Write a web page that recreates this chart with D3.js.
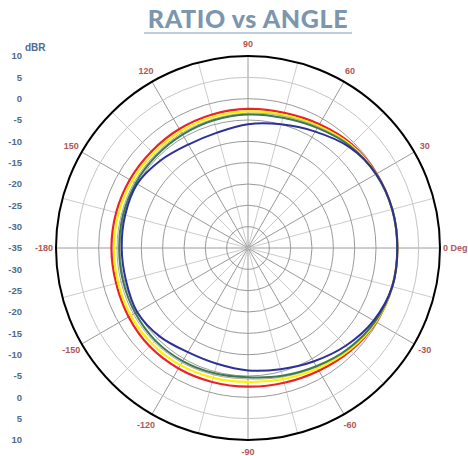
<!DOCTYPE html>
<html>
  <head>
    <title>Ratio vs Angle</title>
    <meta charset="UTF-8">
    <style>
      body { margin: 0; background: #fff; }
      svg { display: block; }
    </style>
  </head>
  <body>
    <svg></svg>

    <script src="https://d3js.org/d3.v7.min.js"></script>
    <script>

// angles in degrees (0 = right, counter-clockwise)
var angles = [0, 15, 30, 45, 60, 75, 90, 105, 120, 135, 150, 165, 180, 195, 210, 225, 240, 255, 270, 285, 300, 315, 330, 345];

// ratio in dBR for each series
var redValues    = [0, 0, -0.2, -0.6, -1.5, -2.2, -2.4, -2.6, -2.8, -3.0, -3.0, -3.0, -3.0, -3.0, -2.7, -2.4, -2.4, -2.5, -2.5, -2.3, -1.8, -1.0, -0.3, 0];
var yellowValues = [0, 0, -0.3, -0.9, -2.0, -2.7, -3.0, -3.2, -3.4, -3.6, -3.6, -3.6, -3.6, -3.5, -3.3, -3.2, -3.3, -3.5, -3.6, -3.2, -2.4, -1.3, -0.4, 0];
var grayValues   = [0, 0, -0.3, -1.0, -2.2, -3.0, -3.4, -3.7, -3.9, -4.1, -4.2, -4.3, -4.3, -4.2, -4.0, -3.9, -4.0, -4.2, -4.3, -3.7, -2.8, -1.5, -0.5, 0];
var greenValues  = [0, 0, -0.4, -1.2, -2.5, -3.4, -3.7, -4.0, -4.3, -4.5, -4.6, -4.7, -4.8, -4.7, -4.5, -4.3, -4.4, -4.6, -4.7, -4.0, -3.0, -1.7, -0.6, 0];
var blueValues   = [0, 0, -0.3, -1.5, -3.5, -5.0, -6.0, -7.0, -7.0, -6.0, -5.0, -5.2, -5.4, -5.4, -5.0, -5.7, -6.8, -6.9, -6.3, -5.6, -4.3, -2.6, -1.0, 0];

// tick labels
var dbTicks = [10, 5, 0, -5, -10, -15, -20, -25, -30, -35];
var angleLabels = [0, 30, 60, 90, 120, 150, 180, -150, -120, -90, -60, -30];
var gridCircles = [-30, -25, -20, -15, -10, -5, 0, 5];
var spokes = d3.range(0, 360, 15);

var config = {
  "width": 468,
  "height": 456,
  "cx": 248,
  "cy": 248,
  "radius": 192
};

var series = [
  {name: "red",    values: redValues,    color: "#ec2227", width: 2.2},
  {name: "yellow", values: yellowValues, color: "#fff200", width: 2.2},
  {name: "gray",   values: grayValues,   color: "#a8a8a8", width: 1},
  {name: "green",  values: greenValues,  color: "#3d7a50", width: 2},
  {name: "blue",   values: blueValues,   color: "#2b3199", width: 2}
];

var svg = d3.select("svg")
  .attr("width", config.width)
  .attr("height", config.height);

var r = d3.scaleLinear().domain([-35, 10]).range([0, config.radius]);
var rad = function(deg) { return deg * Math.PI / 180; };

/* TITLE */
svg.append("text")
  .attr("x", 248)
  .attr("y", 28)
  .attr("text-anchor", "middle")
  .style("font-family", "Lato, 'Open Sans', sans-serif")
  .style("font-weight", 900)
  .style("font-size", "25px")
  .style("letter-spacing", "0.6px")
  .style("fill", "#7b96ad")
  .text("RATIO vs ANGLE");

svg.append("line")
  .attr("x1", 144).attr("x2", 352)
  .attr("y1", 33).attr("y2", 33)
  .attr("stroke", "#a7bccd")
  .attr("stroke-width", 1.5);

var g = svg.append("g")
  .attr("transform", "translate(" + config.cx + "," + config.cy + ")");

/* GRID */
g.selectAll(".spoke")
  .data(spokes)
  .enter().append("line")
    .attr("class", "spoke")
    .attr("x1", 0).attr("y1", 0)
    .attr("x2", function(d) { return r(10) * Math.cos(rad(d)); })
    .attr("y2", function(d) { return -r(10) * Math.sin(rad(d)); })
    .attr("stroke", function(d) { return d % 30 == 0 ? "#9a9a9a" : "#cccccc"; })
    .attr("stroke-width", 1);

g.selectAll(".ring")
  .data(gridCircles)
  .enter().append("circle")
    .attr("class", "ring")
    .attr("r", function(d) { return r(d); })
    .attr("fill", "none")
    .attr("stroke", function(d) { return d == 5 ? "#c4c4c4" : "#9a9a9a"; })
    .attr("stroke-width", 1);

g.append("circle")
  .attr("r", r(10))
  .attr("fill", "none")
  .attr("stroke", "#000")
  .attr("stroke-width", 2);

/* CURVES */
var line = d3.lineRadial()
  .angle(function(d) { return rad(90 - d[0]); })
  .radius(function(d) { return r(d[1]); })
  .curve(d3.curveCatmullRomClosed);

series.forEach(function(s) {
  var pts = angles.map(function(a, i) { return [a, s.values[i]]; });
  g.append("path")
    .datum(pts)
    .attr("d", line)
    .attr("fill", "none")
    .attr("stroke", s.color)
    .attr("stroke-width", s.width);
});

/* ANGLE LABELS */
var labelR = r(10) + 12;
g.selectAll(".alabel")
  .data(angleLabels)
  .enter().append("text")
    .attr("class", "alabel")
    .attr("x", function(d) {
      if (d == 0) return r(10) + 3;
      if (d == 180) return -r(10) - 3;
      return labelR * Math.cos(rad(d));
    })
    .attr("y", function(d) {
      if (d == 0 || d == 180) return 0;
      return -labelR * Math.sin(rad(d));
    })
    .attr("dy", "0.35em")
    .attr("text-anchor", function(d) {
      if (d == 0) return "start";
      if (d == 180) return "end";
      return "middle";
    })
    .style("font-family", "'Liberation Sans', Arial, sans-serif")
    .style("font-weight", "bold")
    .style("font-size", "9px")
    .style("fill", "#b05656")
    .text(function(d) { return d == 0 ? "0 Deg" : (d == 180 ? "-180" : d); });

/* dBR SCALE */
var scaleG = svg.append("g");
var leftTicks = dbTicks.map(function(v) { return {v: v, y: config.cy - r(v)}; })
  .concat(dbTicks.slice(0, -1).reverse().map(function(v) { return {v: v, y: config.cy + r(v)}; }));

scaleG.selectAll("text")
  .data(leftTicks)
  .enter().append("text")
    .attr("x", 22)
    .attr("y", function(d) { return d.y; })
    .attr("dy", "0.35em")
    .attr("text-anchor", "end")
    .style("font-family", "'Liberation Sans', Arial, sans-serif")
    .style("font-weight", "bold")
    .style("font-size", "9.5px")
    .style("fill", "#4e6b8c")
    .text(function(d) { return d.v; });

svg.append("text")
  .attr("x", 25)
  .attr("y", 51)
  .style("font-family", "'Liberation Sans', Arial, sans-serif")
  .style("font-weight", "bold")
  .style("font-size", "10px")
  .style("fill", "#4e6b8c")
  .text("dBR");

    </script>
  </body>
</html>
